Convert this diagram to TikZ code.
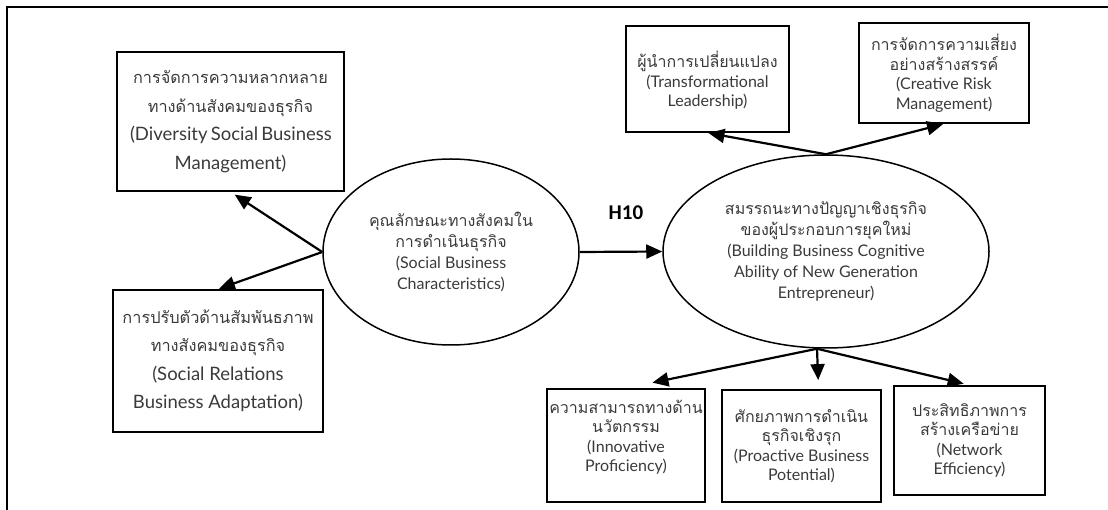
\documentclass[tikz,border=0pt]{standalone}
\usepackage{fontspec}
\setmainfont{Carlito}
\newfontfamily\thaifont[Script=Thai]{Loma}
\newfontfamily\latfont{Lato}
\usetikzlibrary{arrows.meta,shapes.geometric,calc}
\definecolor{txt}{HTML}{3A3A3A}
\def\ld{19.5pt}
\def\tfs{16}
\def\lfs{16}
\newcommand\thf{\thaifont\fontsize{\tfs}{\ld}\selectfont}
\newcommand\laf{\latfont\fontsize{\lfs}{\ld}\selectfont}
\newcommand\wl[2]{\makebox[#1pt][s]{#2}}
\begin{document}
\begin{tikzpicture}[x=1pt,y=-1pt,
  box/.style={draw=black,line width=1.8pt,rectangle,inner sep=0pt,align=center,text=txt,font={\def\ld{19.5pt}\thf}},
  bigbox/.style={box,font={\def\ld{28.5pt}\def\tfs{16.3}\def\lfs{18.5}\thf}},
  oval/.style={draw=black,line width=1.5pt,ellipse,inner sep=0pt,align=center,text=txt,font={\def\ld{21pt}\thf}},
  arr/.style={line width=2.2pt,-{Triangle[length=16pt,width=14pt]}},
  frame/.style={line width=2pt}]
\useasboundingbox (0,0) rectangle (1108,510);
\draw[frame] (7,510) -- (7,7) -- (1108,7);

\node[bigbox,minimum width=227pt,minimum height=139pt] (dsbm) at (230.5,121.5)
  {\thf การจัดการความหลากหลาย\\\thf ทางด้านสังคมของธุรกิจ\\\laf \wl{201}{(Diversity Social Business}\\\laf Management)};
\node[bigbox,minimum width=210pt,minimum height=142pt] (srba) at (218,361)
  {\thf การปรับตัวด้านสัมพันธภาพ\\\thf ทางสังคมของธุรกิจ\\\laf (Social Relations\\\laf Business Adaptation)};
\node[oval,minimum width=256pt,minimum height=186pt] (lell) at (451,252)
  {\thf คุณลักษณะทางสังคมใน\\\thf การดำเนินธุรกิจ\\\laf (Social Business\\\laf Characteristics)};
\node[oval,minimum width=326pt,minimum height=193pt] (rell) at (826,251.5)
  {\thf สมรรถนะทางปัญญาเชิงธุรกิจ\\\thf ของผู้ประกอบการยุคใหม่\\\laf (Building Business Cognitive\\\laf Ability of New Generation\\\laf Entrepreneur)};
\node[box,minimum width=163pt,minimum height=106pt] (tl) at (707.5,79)
  {\mbox{}\\\thf ผู้นำการเปลี่ยนแปลง\\\laf (Transformational\\\laf Leadership)};
\node[box,minimum width=170pt,minimum height=100pt] (crm) at (944,73)
  {\thf การจัดการความเสี่ยง\\\thf อย่างสร้างสรรค์\\\laf (Creative Risk\\\laf Management)};
\node[box,minimum width=158pt,minimum height=113pt] (ip) at (626,445.5)
  {\thf ความสามารถทางด้าน\\\thf นวัตกรรม\\\laf (Innovative\\\laf Proficiency)\\\mbox{}};
\node[box,minimum width=159pt,minimum height=112pt] (pbp) at (801.5,446)
  {\thf ศักยภาพการดำเนิน\\\thf ธุรกิจเชิงรุก\\\laf (Proactive Business\\\laf Potential)};
\node[box,minimum width=151pt,minimum height=109pt] (ne) at (969.5,440.5)
  {\thf ประสิทธิภาพการ\\\thf สร้างเครือข่าย\\\laf (Network\\\laf Efficiency)};

\node[font=\bfseries\fontsize{21}{23}\selectfont] (h10) at (626,213) {H10};

\draw[arr,shorten >=5pt] (lell.west) -- (dsbm.south);
\draw[arr,shorten >=1pt] (lell.west) -- (srba.north);
\draw[arr] (lell.east) -- (rell.west);
\draw[arr,shorten >=1pt] (rell.north) -- (tl.south);
\draw[arr,shorten >=1pt] (rell.north) -- (crm.south);
\coordinate (rb) at ([xshift=-9pt]rell.south);
\draw[arr,shorten >=27pt] (rb) -- (ip.north);
\draw[arr,shorten >=9pt] (rb) -- ([xshift=17pt]pbp.north);
\draw[arr,shorten >=6pt] (rb) -- (ne.north);
\end{tikzpicture}
\end{document}
